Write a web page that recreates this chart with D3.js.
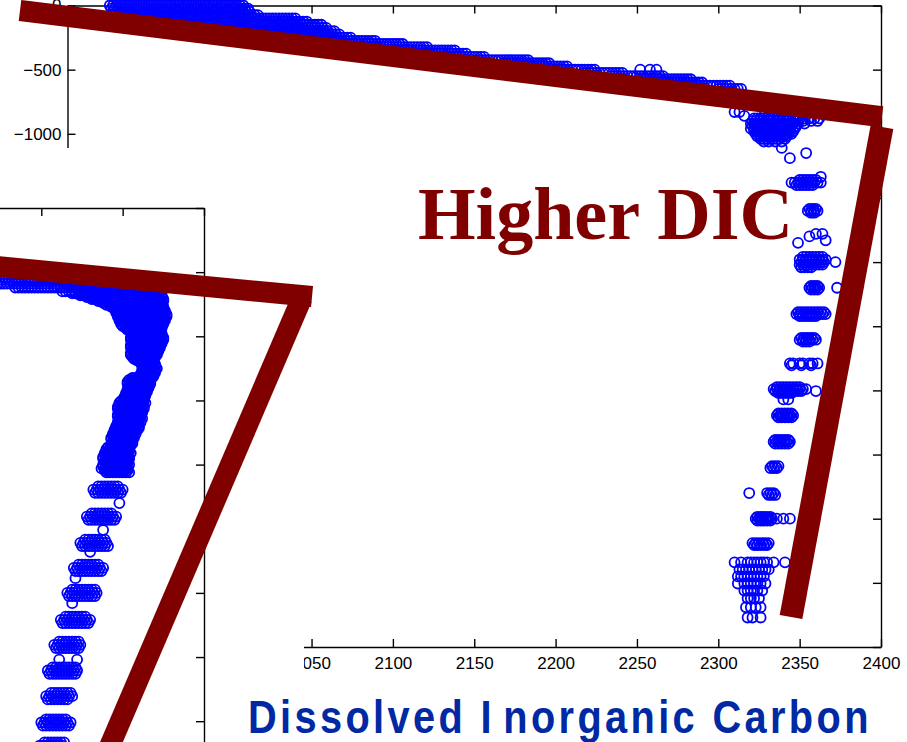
<!DOCTYPE html>
<html>
<head>
<meta charset="utf-8">
<script src="https://cdn.jsdelivr.net/npm/d3@7"></script>
<style>
  body { margin: 0; background: #fff; }
  svg { display: block; }
  .axis text { font-family: "Liberation Sans", Arial, sans-serif; font-size: 17px; fill: #000; }
  .axis path, .axis line { stroke: #000; stroke-width: 1.4; }
</style>
</head>
<body>
<svg id="chart" width="907" height="742"></svg>
<script>
// tick values (DIC in umol/kg, depth in m)
const dicTicks = [1900, 1950, 2000, 2050, 2100, 2150, 2200, 2250, 2300, 2350, 2400];
const depthTicks = [-5000, -4500, -4000, -3500, -3000, -2500, -2000, -1500, -1000, -500, 0];

// back profile: [depth, [DIC values at that depth]]
const backShallow = [
  [0, [1926,1928,1930,1932,1934,1936,1938,1940,1942,1944,1946,1948,1950,1952,1954,1956,1958,1960,1962,1964,1966,1968,1970,1972,1974,1976,1978,1980,1982,1984,1986,1988,1990,1992,1994,1996,1998,2000,2002,2004,2006,2008]],
  [-25, [1927,1929,1931,1933,1935,1937,1939,1941,1943,1945,1947,1949,1951,1953,1955,1957,1959,1961,1963,1965,1967,1969,1971,1973,1975,1977,1979,1981,1983,1985,1987,1989,1991,1993,1995,1997,1999,2001,2003,2005,2007,2009,2011]],
  [-50, [1928,1930,1932,1934,1936,1938,1940,1942,1944,1946,1948,1950,1952,1954,1956,1958,1960,1962,1964,1966,1968,1970,1972,1974,1976,1978,1980,1982,1984,1986,1988,1990,1992,1994,1996,1998,2000,2002,2004,2006,2008,2010,2012]],
  [-75, [1931,1933,1935,1937,1939,1941,1943,1945,1947,1949,1951,1953,1955,1957,1959,1961,1963,1965,1967,1969,1971,1973,1975,1977,1979,1981,1983,1985,1987,1989,1991,1993,1995,1997,1999,2001,2003,2005,2007,2009,2011,2013,2015,2017]],
  [-100, [1940,1942,1944,1946,1948,1950,1952,1954,1956,1958,1960,1962,1964,1966,1968,1970,1972,1974,1976,1978,1980,1982,1984,1986,1988,1990,1992,1994,1996,1998,2000,2002,2004,2006,2008,2010,2012,2014,2016,2018,2020,2022,2024,2026,2028,2030,2032,2034,2036,2038,2040]],
  [-125, [1955,1957,1959,1961,1963,1965,1967,1969,1971,1973,1975,1977,1979,1981,1983,1985,1987,1989,1991,1993,1995,1997,1999,2001,2003,2005,2007,2009,2011,2013,2015,2017,2019,2021,2023,2025,2027,2029,2031,2033,2035,2037,2039,2041,2043,2045,2047]],
  [-150, [1972,1974,1976,1978,1980,1982,1984,1986,1988,1990,1992,1994,1996,1998,2000,2002,2004,2006,2008,2010,2012,2014,2016,2018,2020,2022,2024,2026,2028,2030,2032,2034,2036,2038,2040,2042,2044,2046,2048,2050,2052,2054,2056]],
  [-175, [1989,1991,1993,1995,1997,1999,2001,2003,2005,2007,2009,2011,2013,2015,2017,2019,2021,2023,2025,2027,2029,2031,2033,2035,2037,2039,2041,2043,2045,2047,2049,2051,2053,2055,2057,2059]],
  [-200, [2004,2006,2008,2010,2012,2014,2016,2018,2020,2022,2024,2026,2028,2030,2032,2034,2036,2038,2040,2042,2044,2046,2048,2050,2052,2054,2056,2058,2060,2062,2064]],
  [-225, [2021,2023,2025,2027,2029,2031,2033,2035,2037,2039,2041,2043,2045,2047,2049,2051,2053,2055,2057,2059,2061,2063,2065,2067]],
  [-250, [2038,2040,2042,2044,2046,2048,2050,2052,2054,2056,2058,2060,2062,2064,2066,2068,2070,2072,2074]],
  [-275, [2055,2057,2059,2061,2063,2065,2067,2069,2071,2073,2075,2077,2079,2081,2083,2085,2087,2089]],
  [-300, [2070,2072,2074,2076,2078,2080,2082,2084,2086,2088,2090,2092,2094,2096,2098,2100,2102,2104,2106]],
  [-325, [2087,2089,2091,2093,2095,2097,2099,2101,2103,2105,2107,2109,2111,2113,2115,2117,2119,2121]],
  [-350, [2104,2106,2108,2110,2112,2114,2116,2118,2120,2122,2124,2126,2128,2130,2132,2134,2136,2138]],
  [-375, [2119,2121,2123,2125,2127,2129,2131,2133,2135,2137,2139,2141,2143,2145]],
  [-400, [2136,2138,2140,2142,2144,2146,2148,2150,2152,2154,2156]],
  [-425, [2151,2153,2155,2157,2159,2161,2163,2165,2167,2169,2171,2173,2175,2177,2179,2181,2183]],
  [-450, [2168,2170,2172,2174,2176,2178,2180,2182,2184,2186,2188,2190,2192,2194,2196]],
  [-475, [2185,2187,2189,2191,2193,2195,2197,2199,2201,2203,2205,2207]],
  [-500, [2200,2202,2204,2206,2208,2210,2212,2214,2216,2218,2220,2222,2224,2252,2258,2262]],
  [-525, [2217,2219,2221,2223,2225,2227,2229,2231,2233,2235,2237,2239,2241]],
  [-550, [2234,2236,2238,2240,2242,2244,2246,2248,2250,2252,2254,2256,2258,2260,2262,2264,2266]],
  [-575, [2251,2253,2255,2257,2259,2261,2263,2265,2267,2269,2271,2273,2275,2277,2279,2281,2283]],
  [-600, [2266,2268,2270,2272,2274,2276,2278,2280,2282,2284,2286,2288,2290]],
  [-625, [2283,2285,2287,2289,2291,2293,2295,2297,2299,2301,2303,2305,2307]],
  [-650, [2300,2302,2304,2306,2308,2310,2312,2314]]
];

const backDeep = [
  [-830, [2310,2313]],
  [-860, [2316,2328,2331,2334,2337,2340,2343,2346,2349]],
  [-880, [2322,2324,2326,2328,2330,2332,2334,2336,2338,2340,2342,2344,2346,2348,2350,2353,2356,2359,2362]],
  [-900, [2321,2323,2325,2327,2329,2331,2333,2335,2337,2339,2341,2343,2345,2347,2349,2352,2357,2361]],
  [-920, [2320,2322,2324,2326,2328,2330,2332,2334,2336,2338,2340,2342,2344,2346,2349,2353]],
  [-940, [2321,2323,2325,2327,2329,2331,2333,2335,2337,2339,2341,2343,2345,2348]],
  [-960, [2320,2322,2324,2326,2328,2330,2332,2334,2336,2338,2340,2342,2344,2347]],
  [-980, [2322,2324,2326,2328,2330,2332,2334,2336,2338,2340,2342,2344,2346]],
  [-1000, [2323,2325,2327,2329,2331,2333,2335,2337,2339,2341,2343,2345]],
  [-1020, [2324,2326,2328,2330,2332,2334,2336,2338,2340,2342]],
  [-1040, [2326,2328,2330,2332,2334,2336,2338,2341]],
  [-1060, [2328,2331,2335,2339]],
  [-1110, [2339]],
  [-1150, [2354]],
  [-1190, [2344]],
  [-1335, [2363]],
  [-1360, [2350,2352,2354,2356,2358,2360]],
  [-1380, [2345,2347,2349,2351,2353,2355,2357,2359,2361,2363]],
  [-1400, [2348,2350,2352,2354,2356,2358]],
  [-1585, [2356,2358,2360]],
  [-1600, [2355,2357,2359,2361]],
  [-1615, [2357,2359]],
  [-1780, [2360,2364]],
  [-1800, [2356]],
  [-1830, [2366]],
  [-1850, [2349]],
  [-1960, [2352,2354,2356,2358,2360,2362,2364]],
  [-1980, [2350,2352,2354,2356,2358,2360,2362,2364,2366]],
  [-2000, [2351,2353,2355,2357,2359,2361,2363,2365,2372]],
  [-2020, [2350,2352,2354,2356,2358,2360,2362,2364]],
  [-2040, [2351,2353,2355,2357]],
  [-2185, [2357,2359,2361]],
  [-2200, [2356,2358,2360,2362,2373]],
  [-2215, [2357,2359,2361]],
  [-2390, [2349,2351,2353,2355,2357,2359,2361,2363,2365]],
  [-2405, [2348,2350,2352,2354,2356,2358,2360,2362,2364,2366]],
  [-2420, [2350,2352,2354,2356,2358,2360]],
  [-2590, [2351,2353,2355,2357,2359]],
  [-2605, [2350,2352,2354,2356,2358,2360]],
  [-2620, [2352,2354,2356]],
  [-2790, [2344,2346,2350,2352,2356,2358,2361]],
  [-2805, [2345,2351,2357]],
  [-2975, [2336,2338,2340,2342,2344,2346,2348,2350]],
  [-2990, [2334,2336,2338,2340,2342,2344,2346,2348,2350,2352,2354]],
  [-3005, [2335,2337,2339,2341,2343,2345,2347,2349,2351,2360]],
  [-3020, [2337,2339,2341,2343,2345]],
  [-3070, [2340,2343]],
  [-3180, [2337,2339,2341,2343,2345]],
  [-3195, [2336,2338,2340,2342,2344,2346]],
  [-3210, [2337,2339,2341,2343,2345]],
  [-3385, [2335,2337,2339,2341,2343]],
  [-3400, [2334,2336,2338,2340,2342,2344]],
  [-3415, [2335,2337,2339,2341,2343]],
  [-3590, [2333,2335,2337]],
  [-3605, [2332,2334,2336]],
  [-3800, [2319,2330,2332,2334]],
  [-3815, [2331,2333,2335]],
  [-3985, [2324,2326,2328,2330,2332]],
  [-4000, [2323,2325,2327,2329,2331,2333,2336,2340,2344]],
  [-4015, [2324,2326,2328,2330,2332]],
  [-4190, [2321,2323,2325,2327,2329,2331]],
  [-4205, [2322,2324,2326,2328,2330]],
  [-4340, [2310,2314,2318,2320,2322,2324,2326,2328,2330,2334,2341]],
  [-4395, [2313,2315,2317,2319,2321,2323,2325,2327,2329,2331]],
  [-4450, [2312,2314,2316,2318,2320,2322,2324,2326,2328]],
  [-4505, [2312,2316,2318,2320,2322,2324,2326,2329]],
  [-4560, [2316,2318,2320,2322,2324,2327]],
  [-4620, [2318,2320,2322,2325]],
  [-4690, [2317,2320,2323,2326]],
  [-4770, [2318,2321,2326]]
];

// front profile (the panel laid over the lower left)
const frontUpper = [
  [-560, [2272,2274,2276,2278,2280,2282,2284,2286,2288,2290,2292,2294,2296,2298,2300,2302,2304,2306,2308,2310,2312,2314,2316,2318,2320,2322,2324]],
  [-590, [2273,2275,2277,2279,2281,2283,2285,2287,2289,2291,2293,2295,2297,2299,2301,2303,2305,2307,2309,2311,2313,2315,2317,2319,2321,2323,2325,2327,2329,2331,2333,2335,2337,2339,2341,2343,2345,2347]],
  [-620, [2284,2286,2288,2290,2292,2294,2296,2298,2300,2302,2304,2306,2308,2310,2312,2314,2316,2318,2320,2322,2324,2326,2328,2330,2332,2334,2336,2338,2340,2342,2344,2346,2348,2350,2352,2354,2356,2358,2360,2362,2364,2366,2368]],
  [-650, [2313,2315,2317,2319,2321,2323,2325,2327,2329,2331,2333,2335,2337,2339,2341,2343,2345,2347,2349,2351,2353,2355,2357,2359,2361,2363,2365,2367,2369]],
  [-680, [2324,2326,2328,2330,2332,2334,2336,2338,2340,2342,2344,2346,2348,2350,2352,2354,2356,2358,2360,2362,2364,2366,2368,2370,2372,2374]],
  [-710, [2331,2333,2335,2337,2339,2341,2343,2345,2347,2349,2351,2353,2355,2357,2359,2361,2363,2365,2367,2369,2371,2373,2375]],
  [-740, [2338,2340,2342,2344,2346,2348,2350,2352,2354,2356,2358,2360,2362,2364,2366,2368,2370,2372,2374]],
  [-770, [2343,2345,2347,2349,2351,2353,2355,2357,2359,2361,2363,2365,2367,2369,2371,2373,2375]],
  [-800, [2346,2348,2350,2352,2354,2356,2358,2360,2362,2364,2366,2368,2370,2372,2374,2376]],
  [-830, [2347,2349,2351,2353,2355,2357,2359,2361,2363,2365,2367,2369,2371,2373,2375,2377]],
  [-860, [2348,2350,2352,2354,2356,2358,2360,2362,2364,2366,2368,2370,2372,2374,2376]],
  [-890, [2349,2351,2353,2355,2357,2359,2361,2363,2365,2367,2369,2371,2373,2375]],
  [-920, [2350,2352,2354,2356,2358,2360,2362,2364,2366,2368,2370,2372,2374]],
  [-950, [2353,2355,2357,2359,2361,2363,2365,2367,2369,2371,2373]],
  [-980, [2356,2358,2360,2362,2364,2366,2368,2370,2372,2374]],
  [-1010, [2355,2357,2359,2361,2363,2365,2367,2369,2371,2373,2375]],
  [-1040, [2356,2358,2360,2362,2364,2366,2368,2370,2372,2374]],
  [-1070, [2355,2357,2359,2361,2363,2365,2367,2369,2371,2373]],
  [-1100, [2356,2358,2360,2362,2364,2366,2368,2370,2372]],
  [-1130, [2355,2357,2359,2361,2363,2365,2367,2369,2371]],
  [-1160, [2356,2358,2360,2362,2364,2366,2368,2370]],
  [-1190, [2359,2361,2363,2365,2367,2369]],
  [-1220, [2362,2364,2366,2368,2370]],
  [-1250, [2363,2365,2367,2369,2371]],
  [-1280, [2362,2364,2366,2368,2370]],
  [-1310, [2361,2363,2365,2367,2369]],
  [-1340, [2354,2356,2358,2360,2362,2364,2366]],
  [-1370, [2353,2355,2357,2359,2361,2363,2365,2367]],
  [-1400, [2354,2356,2358,2360,2362,2364,2366]],
  [-1430, [2353,2355,2357,2359,2361,2363,2365]],
  [-1460, [2352,2354,2356,2358,2360,2362,2364]],
  [-1490, [2351,2353,2355,2357,2359,2361,2363]],
  [-1520, [2348,2350,2352,2354,2356,2358,2360,2362,2364]],
  [-1550, [2347,2349,2351,2353,2355,2357,2359,2361,2363]],
  [-1580, [2348,2350,2352,2354,2356,2358,2360,2362]],
  [-1610, [2347,2349,2351,2353,2355,2357,2359,2361]],
  [-1640, [2348,2350,2352,2354,2356,2358,2360,2362]],
  [-1670, [2347,2349,2351,2353,2355,2357,2359,2361]],
  [-1700, [2346,2348,2350,2352,2354,2356,2358,2360]],
  [-1730, [2345,2347,2349,2351,2353,2355,2357,2359]],
  [-1760, [2344,2346,2348,2350,2352,2354,2356,2358]],
  [-1790, [2343,2345,2347,2349,2351,2353,2355,2357]],
  [-1820, [2344,2346,2348,2350,2352,2354,2356]],
  [-1850, [2343,2345,2347,2349,2351,2353,2355]],
  [-1880, [2340,2342,2344,2346,2348,2350,2352,2354]],
  [-1910, [2339,2341,2343,2345,2347,2349,2351,2353,2355]],
  [-1940, [2338,2340,2342,2344,2346,2348,2350,2352,2354]],
  [-1970, [2339,2341,2343,2345,2347,2349,2351,2353]],
  [-2000, [2338,2340,2342,2344,2346,2348,2350,2352,2354]],
  [-2030, [2337,2339,2341,2343,2345,2347,2349,2351,2353]],
  [-2060, [2340,2342,2344,2346,2348,2350,2352,2354]]
];

// second cast on the same front section, between the levels above
const frontUpper2 = [
  [-665, [2319,2321,2323,2325,2327,2329,2331,2333,2335,2337,2339,2341,2343,2345,2347,2349,2351,2353,2355,2357,2359,2361,2363,2365,2367,2369,2371]],
  [-695, [2328,2330,2332,2334,2336,2338,2340,2342,2344,2346,2348,2350,2352,2354,2356,2358,2360,2362,2364,2366,2368,2370,2372,2374]],
  [-725, [2335,2337,2339,2341,2343,2345,2347,2349,2351,2353,2355,2357,2359,2361,2363,2365,2367,2369,2371,2373,2375]],
  [-755, [2340,2342,2344,2346,2348,2350,2352,2354,2356,2358,2360,2362,2364,2366,2368,2370,2372,2374]],
  [-785, [2345,2347,2349,2351,2353,2355,2357,2359,2361,2363,2365,2367,2369,2371,2373,2375]],
  [-815, [2346,2348,2350,2352,2354,2356,2358,2360,2362,2364,2366,2368,2370,2372,2374,2376]],
  [-845, [2347,2349,2351,2353,2355,2357,2359,2361,2363,2365,2367,2369,2371,2373,2375,2377]],
  [-875, [2348,2350,2352,2354,2356,2358,2360,2362,2364,2366,2368,2370,2372,2374,2376]],
  [-905, [2349,2351,2353,2355,2357,2359,2361,2363,2365,2367,2369,2371,2373,2375]],
  [-935, [2352,2354,2356,2358,2360,2362,2364,2366,2368,2370,2372,2374]],
  [-965, [2355,2357,2359,2361,2363,2365,2367,2369,2371,2373]],
  [-995, [2356,2358,2360,2362,2364,2366,2368,2370,2372,2374]],
  [-1025, [2355,2357,2359,2361,2363,2365,2367,2369,2371,2373,2375]],
  [-1055, [2356,2358,2360,2362,2364,2366,2368,2370,2372,2374]],
  [-1085, [2355,2357,2359,2361,2363,2365,2367,2369,2371,2373]],
  [-1115, [2356,2358,2360,2362,2364,2366,2368,2370,2372]],
  [-1145, [2355,2357,2359,2361,2363,2365,2367,2369,2371]],
  [-1175, [2357,2359,2361,2363,2365,2367,2369]],
  [-1205, [2361,2363,2365,2367,2369]],
  [-1235, [2362,2364,2366,2368,2370]],
  [-1265, [2362,2364,2366,2368,2370]],
  [-1295, [2361,2363,2365,2367,2369]],
  [-1325, [2356,2358,2360,2362,2364,2366,2368]],
  [-1355, [2353,2355,2357,2359,2361,2363,2365,2367]],
  [-1385, [2354,2356,2358,2360,2362,2364,2366]],
  [-1415, [2353,2355,2357,2359,2361,2363,2365]],
  [-1445, [2352,2354,2356,2358,2360,2362,2364]],
  [-1475, [2351,2353,2355,2357,2359,2361,2363]],
  [-1505, [2349,2351,2353,2355,2357,2359,2361,2363]],
  [-1535, [2348,2350,2352,2354,2356,2358,2360,2362]],
  [-1565, [2347,2349,2351,2353,2355,2357,2359,2361,2363]],
  [-1595, [2348,2350,2352,2354,2356,2358,2360,2362]],
  [-1625, [2347,2349,2351,2353,2355,2357,2359,2361]],
  [-1655, [2348,2350,2352,2354,2356,2358,2360]],
  [-1685, [2347,2349,2351,2353,2355,2357,2359]],
  [-1715, [2346,2348,2350,2352,2354,2356,2358,2360]],
  [-1745, [2345,2347,2349,2351,2353,2355,2357]],
  [-1775, [2344,2346,2348,2350,2352,2354,2356]],
  [-1805, [2343,2345,2347,2349,2351,2353,2355]],
  [-1835, [2344,2346,2348,2350,2352,2354,2356]],
  [-1865, [2341,2343,2345,2347,2349,2351,2353]],
  [-1895, [2340,2342,2344,2346,2348,2350,2352,2354]],
  [-1925, [2339,2341,2343,2345,2347,2349,2351,2353]],
  [-1955, [2338,2340,2342,2344,2346,2348,2350,2352,2354]],
  [-1985, [2339,2341,2343,2345,2347,2349,2351,2353]],
  [-2015, [2338,2340,2342,2344,2346,2348,2350,2352]],
  [-2045, [2339,2341,2343,2345,2347,2349,2351,2353]]
];

const frontDeep = [
  [-2170, [2335,2337,2339,2341,2343,2345,2347]],
  [-2195, [2332,2334,2336,2338,2340,2342,2344,2346,2348,2350]],
  [-2220, [2333,2335,2337,2339,2341,2343,2345,2347,2349]],
  [-2300, [2348]],
  [-2380, [2331,2333,2335,2337,2339,2341,2343]],
  [-2405, [2328,2330,2332,2334,2336,2338,2340,2342,2344,2346]],
  [-2430, [2329,2331,2333,2335,2337,2339,2341,2343,2345]],
  [-2510, [2338]],
  [-2585, [2327,2329,2331,2333,2335,2337,2339]],
  [-2610, [2324,2326,2328,2330,2332,2334,2336,2338,2340]],
  [-2635, [2325,2327,2329,2331,2333,2335,2337,2339,2341]],
  [-2680, [2330]],
  [-2780, [2323,2325,2327,2329,2331,2333,2335]],
  [-2805, [2320,2322,2324,2326,2328,2330,2332,2334,2336,2338]],
  [-2830, [2321,2323,2325,2327,2329,2331,2333,2335,2337]],
  [-2885, [2321]],
  [-2975, [2319,2321,2323,2325,2327,2329,2331,2333]],
  [-3000, [2316,2318,2320,2322,2324,2326,2328,2330,2332,2334]],
  [-3025, [2317,2319,2321,2323,2325,2327,2329,2331,2333]],
  [-3080, [2319]],
  [-3185, [2315,2317,2319,2321,2323,2325,2327]],
  [-3210, [2312,2314,2316,2318,2320,2322,2324,2326,2328,2330]],
  [-3235, [2313,2315,2317,2319,2321,2323,2325,2327,2329]],
  [-3380, [2311,2313,2315,2317,2319,2321,2323]],
  [-3405, [2308,2310,2312,2314,2316,2318,2320,2322,2324]],
  [-3430, [2309,2311,2313,2315,2317,2319,2321,2323]],
  [-3520, [2311,2322]],
  [-3580, [2307,2309,2311,2313,2315,2317,2319,2321]],
  [-3605, [2304,2306,2308,2310,2312,2314,2316,2318,2320,2322]],
  [-3630, [2305,2307,2309,2311,2313,2315,2317,2319,2321]],
  [-3780, [2306,2308,2310,2312,2314,2316,2318]],
  [-3805, [2303,2305,2307,2309,2311,2313,2315,2317,2319]],
  [-3830, [2304,2306,2308,2310,2312,2314,2316]],
  [-3985, [2303,2305,2307,2309,2311,2313,2315]],
  [-4010, [2300,2302,2304,2306,2308,2310,2312,2314,2316,2318]],
  [-4035, [2301,2303,2305,2307,2309,2311,2313,2315,2317]],
  [-4165, [2302,2304,2306,2308,2310,2312,2314]],
  [-4190, [2299,2301,2303,2305,2307,2309,2311,2313]]
];

// dark red guide strokes, in each panel's (DIC, depth) units
const backGuide = [[[1870.8, -39], [2400.6, -867]], [[2400.6, -947], [2344.7, -4766]]];
const frontGuide = [[[2262.3, -443], [2466.4, -690]], [[2460.2, -701], [2341, -4225]]];

const svg = d3.select('#chart');

const xBack = d3.scaleLinear().domain([1900, 2400]).range([67.5, 881]);
const yBack = d3.scaleLinear().domain([-5000, 0]).range([647, 5.5]);
// the front panel is the same plot size, shifted down-left
const xFront = d3.scaleLinear().domain([1900, 2400]).range([67.5 - 677, 881 - 677]);
const yFront = d3.scaleLinear().domain([-5000, 0]).range([647 + 202.5, 5.5 + 202.5]);

function drawAxes(g, x, y, labels) {
  const fmt = labels ? d3.format('d') : () => '';
  g.append('g').attr('class', 'axis')
    .attr('transform', `translate(0,${y(-5000)})`)
    .call(d3.axisBottom(x).tickValues(dicTicks).tickSizeInner(-8).tickSizeOuter(0).tickPadding(10).tickFormat(fmt));
  g.append('g').attr('class', 'axis')
    .attr('transform', `translate(0,${y(0)})`)
    .call(d3.axisTop(x).tickValues(dicTicks).tickSizeInner(-8).tickSizeOuter(0).tickFormat(''));
  g.append('g').attr('class', 'axis')
    .attr('transform', `translate(${x(1900)},0)`)
    .call(d3.axisLeft(y).tickValues(depthTicks).tickSizeInner(-8).tickSizeOuter(0).tickPadding(6).tickFormat(fmt));
  g.append('g').attr('class', 'axis')
    .attr('transform', `translate(${x(2400)},0)`)
    .call(d3.axisRight(y).tickValues(depthTicks).tickSizeInner(-8).tickSizeOuter(0).tickFormat(''));
}

function drawPoints(g, rows, x, y) {
  const pts = rows.flatMap(([z, vals]) => vals.map(v => [v, z]));
  g.append('g').selectAll('circle').data(pts).join('circle')
    .attr('cx', d => x(d[0]))
    .attr('cy', d => y(d[1]))
    .attr('r', 5)
    .attr('fill', 'none')
    .attr('stroke', '#0000ff')
    .attr('stroke-width', 1.8);
}

// back panel
const back = svg.append('g');
drawAxes(back, xBack, yBack, true);
drawPoints(back, backShallow, xBack, yBack);
drawPoints(back, backDeep, xBack, yBack);

// front panel with its own white page
const front = svg.append('g');
front.append('rect').attr('x', -10).attr('y', 148).attr('width', 314).attr('height', 620).attr('fill', '#fff');
drawAxes(front, xFront, yFront, false);
drawPoints(front, frontUpper, xFront, yFront);
drawPoints(front, frontUpper2, xFront, yFront);
drawPoints(front, frontDeep, xFront, yFront);

// guide strokes
const guides = svg.append('g').attr('fill', 'none').attr('stroke', '#800000').attr('stroke-linecap', 'butt');
const lineBack = d3.line().x(d => xBack(d[0])).y(d => yBack(d[1]));
const lineFront = d3.line().x(d => xFront(d[0])).y(d => yFront(d[1]));
backGuide.forEach((seg, i) => guides.append('path').attr('d', lineBack(seg)).attr('stroke-width', i ? 23 : 21));
frontGuide.forEach(seg => guides.append('path').attr('d', lineFront(seg)).attr('stroke-width', 21));

// annotations
svg.append('text')
  .attr('x', 418).attr('y', 239)
  .attr('textLength', 375).attr('lengthAdjust', 'spacingAndGlyphs')
  .style('font-family', '"Liberation Serif", "Times New Roman", serif')
  .style('font-weight', 'bold').style('font-size', '74px')
  .attr('fill', '#800000')
  .text('Higher DIC');

// axis title: letter-spaced bold sans, fitted to span 248..872
const title = svg.append('text')
  .style('font-family', '"Liberation Sans Narrow", "Liberation Sans", Arial, sans-serif')
  .style('font-weight', 'bold').style('font-size', '47px')
  .style('letter-spacing', '4px')
  .attr('fill', '#0029a3');
title.append('tspan').text('Dissolved I');
title.append('tspan').attr('dx', 10).text('norganic Carbon');
const bb = title.node().getBBox();
const sx = 624 / bb.width;
title.attr('transform', `translate(${248 - bb.x * sx},733) scale(${sx},1)`);
</script>
</body>
</html>
